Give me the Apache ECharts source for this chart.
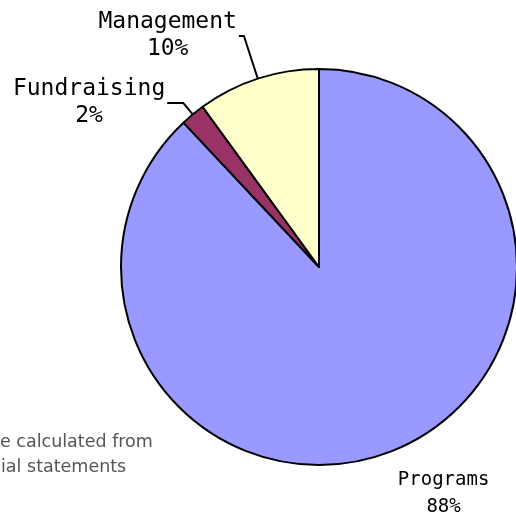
<!DOCTYPE html>
<html>
<head>
<meta charset="utf-8">
<script src="https://cdn.jsdelivr.net/npm/echarts@6/dist/echarts.min.js"></script>
<style>
html,body{margin:0;padding:0;background:#fff;}
#chart{width:516px;height:514px;}
</style>
</head>
<body>
<div id="chart"></div>
<script>
const categories = ['Programs', 'Fundraising', 'Management'];
const values = [88, 2, 10];
const colors = ['#9999ff', '#993366', '#ffffcc'];
const noteLines = ['e calculated from', 'ial statements'];

// per-slice label leader settings (lengths only)
const leader = {
  Programs:    { show: false, length: 46, length2: 0, dist: -11, size: 19 },
  Fundraising: { show: true,  length: 15, length2: 16, dist: 2, size: 23 },
  Management:  { show: true,  length: 45, length2: 5,  dist: 2, size: 23 }
};

const chart = echarts.init(document.getElementById('chart'), null, { renderer: 'canvas' });

const data = categories.map((name, i) => {
  const l = leader[name];
  return {
    name: name,
    value: values[i],
    itemStyle: { color: colors[i] },
    label: {
      distanceToLabelLine: l.dist,
      rich: {
        n: { fontSize: l.size, lineHeight: 27, align: 'center', fontFamily: 'DejaVu Sans Mono', color: '#000' }
      }
    },
    labelLine: { show: l.show, length: l.length, length2: l.length2 }
  };
});

chart.setOption({
  backgroundColor: '#fff',
  animation: false,
  graphic: [
    {
      type: 'text', left: 0, top: 433,
      style: { text: noteLines[0], font: '17.5px "DejaVu Sans"', fill: '#555' }
    },
    {
      type: 'text', left: 1, top: 458,
      style: { text: noteLines[1], font: '17.5px "DejaVu Sans"', fill: '#555' }
    }
  ],
  series: [{
    type: 'pie',
    center: [319, 267],
    radius: 198,
    startAngle: 90,
    clockwise: true,
    percentPrecision: 0,
    avoidLabelOverlap: false,
    itemStyle: { borderColor: '#000', borderWidth: 2 },
    label: {
      show: true,
      position: 'outside',
      formatter: '{n|{b}}\n{n|{d}%}',
      fontFamily: 'DejaVu Sans Mono',
      color: '#000'
    },
    labelLine: {
      smooth: false,
      lineStyle: { color: '#000', width: 2 }
    },
    emphasis: { disabled: true },
    data: data
  }]
});
</script>
</body>
</html>
